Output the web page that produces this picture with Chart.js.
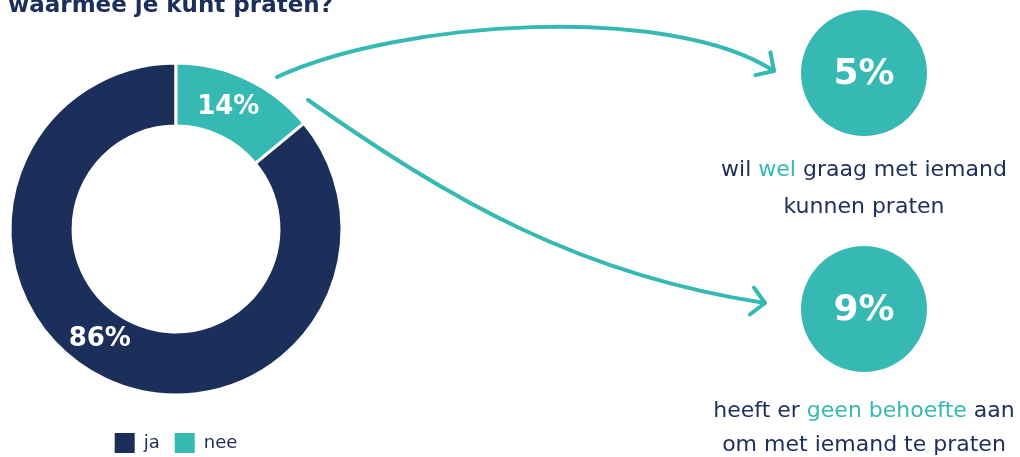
<!DOCTYPE html>
<html>
<head>
<meta charset="utf-8">
<script src="https://cdn.jsdelivr.net/npm/chart.js@4"></script>
<style>
  html, body { margin: 0; padding: 0; background: #fff; }
  #wrap { position: relative; width: 1020px; height: 457px; }
</style>
</head>
<body>
<div id="wrap"><canvas id="chart" width="1020" height="457"></canvas></div>
<script>
// data
const categories = ['ja', 'nee'];
const values = [86, 14];
const sliceColors = ['#1c2e5a', '#36b8b3'];
const followUpValues = [5, 9];
// tekst onder de cirkels: [tekst, accent?]
const followUpTexts = [
    [[['wil ', 0], ['wel', 1], [' graag met iemand', 0]], [['kunnen praten', 0]]],
    [[['heeft er ', 0], ['geen behoefte', 1], [' aan', 0]], [['om met iemand te praten', 0]]]
];
const titleText = 'waarmee je kunt praten?';

const navy = '#1c2e5a';
const teal = '#36b8b3';
const FONT = "'DejaVu Sans', Verdana, sans-serif";

// extra tekeningen: titel, pijlen, cirkels en labels
const extras = {
    id: 'extras',
    afterDraw(chart) {
        const ctx = chart.ctx;
        ctx.save();

        // titel (bovenkant valt weg)
        ctx.fillStyle = navy;
        ctx.font = 'bold 23px ' + FONT;
        ctx.textAlign = 'left';
        ctx.textBaseline = 'alphabetic';
        ctx.fillText(titleText, 8, 12);

        // labels in de donut
        const meta = chart.getDatasetMeta(0);
        const shifts = [[-19, -11], [-5, 0]];
        ctx.font = 'bold 26px ' + FONT;
        ctx.fillStyle = '#fff';
        ctx.textAlign = 'center';
        ctx.textBaseline = 'middle';
        meta.data.forEach((arc, i) => {
            const p = arc.tooltipPosition();
            ctx.fillText(values[i] + '%', p.x + shifts[i][0], p.y + shifts[i][1]);
        });

        // pijlen
        ctx.strokeStyle = teal;
        ctx.lineWidth = 4;
        ctx.lineCap = 'round';
        ctx.lineJoin = 'round';
        const arrows = [
            [[277, 77], [400, 20], [670, 3], [774, 71]],
            [[308, 100], [450, 200], [580, 275], [765, 303]]
        ];
        arrows.forEach(a => {
            ctx.beginPath();
            ctx.moveTo(a[0][0], a[0][1]);
            ctx.bezierCurveTo(a[1][0], a[1][1], a[2][0], a[2][1], a[3][0], a[3][1]);
            ctx.stroke();
            const ang = Math.atan2(a[3][1] - a[2][1], a[3][0] - a[2][0]);
            const len = 19;
            ctx.beginPath();
            ctx.moveTo(a[3][0] + len * Math.cos(ang + Math.PI - 0.8), a[3][1] + len * Math.sin(ang + Math.PI - 0.8));
            ctx.lineTo(a[3][0], a[3][1]);
            ctx.lineTo(a[3][0] + len * Math.cos(ang + Math.PI + 0.8), a[3][1] + len * Math.sin(ang + Math.PI + 0.8));
            ctx.stroke();
        });

        // cirkels met percentages
        const circles = [[864, 73], [864, 309]];
        const textY = [[176, 213], [417, 451]];
        followUpValues.forEach((v, i) => {
            const [cx, cy] = circles[i];
            ctx.beginPath();
            ctx.arc(cx, cy, 63, 0, Math.PI * 2);
            ctx.fillStyle = teal;
            ctx.fill();
            ctx.fillStyle = '#fff';
            ctx.font = 'bold 36px ' + FONT;
            ctx.textAlign = 'center';
            ctx.textBaseline = 'middle';
            ctx.fillText(v + '%', cx, cy + 2);

            ctx.font = '22px ' + FONT;
            ctx.textAlign = 'left';
            ctx.textBaseline = 'alphabetic';
            followUpTexts[i].forEach((line, j) => {
                const total = line.reduce((s, seg) => s + ctx.measureText(seg[0]).width, 0);
                let x = cx - total / 2;
                line.forEach(seg => {
                    ctx.fillStyle = seg[1] ? teal : navy;
                    ctx.fillText(seg[0], x, textY[i][j]);
                    x += ctx.measureText(seg[0]).width;
                });
            });
        });

        ctx.restore();
    }
};

function createChart() {
    const ctx = document.getElementById('chart').getContext('2d');
    const baseLabels = Chart.overrides.doughnut.plugins.legend.labels.generateLabels;
    new Chart(ctx, {
        type: 'doughnut',
        data: {
            labels: categories,
            datasets: [{
                data: values,
                backgroundColor: sliceColors,
                borderColor: '#fff',
                borderWidth: 3,
                hoverOffset: 0
            }]
        },
        options: {
            responsive: false,
            animation: false,
            cutout: '62%',
            rotation: values[1] / 100 * 360,
            layout: {
                padding: { left: 8.5, right: 676.5, top: 40, bottom: -6 }
            },
            plugins: {
                tooltip: { enabled: false },
                legend: {
                    position: 'bottom',
                    labels: {
                        boxWidth: 20,
                        boxHeight: 20,
                        padding: 15,
                        color: navy,
                        font: { family: FONT, size: 18 },
                        generateLabels(chart) {
                            return baseLabels(chart).map(l => Object.assign(l, { lineWidth: 0 }));
                        }
                    }
                }
            }
        },
        plugins: [extras]
    });
}

window.onload = createChart;
</script>
</body>
</html>
